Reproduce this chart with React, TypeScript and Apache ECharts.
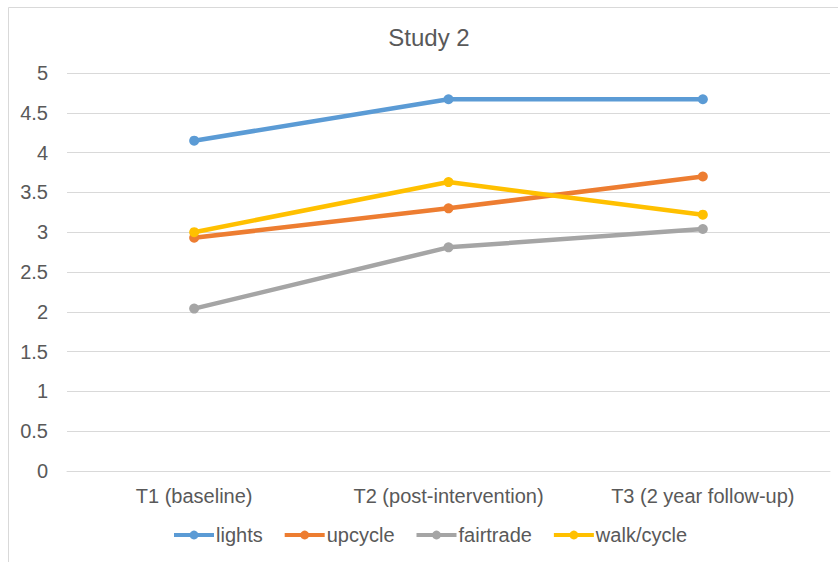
import React, { useEffect, useRef } from "react";
import * as echarts from "echarts";

const categories = ["T1 (baseline)", "T2 (post-intervention)", "T3 (2 year follow-up)"];
const seriesNames = ["lights", "upcycle", "fairtrade", "walk/cycle"];
const lights = [4.15, 4.67, 4.67];
const upcycle = [2.93, 3.3, 3.7];
const fairtrade = [2.04, 2.81, 3.04];
const walkCycle = [3.0, 3.63, 3.22];
const colors = ["#5B9BD5", "#ED7D31", "#A5A5A5", "#FFC000"];

export default function App() {
  const ref = useRef<HTMLDivElement>(null);
  useEffect(() => {
    if (!ref.current) return;
    const chart = echarts.init(ref.current, null, { renderer: "svg" });
    const values = [lights, upcycle, fairtrade, walkCycle];
    const font = "'Liberation Sans', Arial, sans-serif";
    chart.setOption({
      animation: false,
      textStyle: { fontFamily: font },
      title: {
        text: "Study 2",
        left: 429,
        top: 25,
        padding: 0,
        textAlign: "center",
        textStyle: { fontSize: 24, fontWeight: "normal", color: "#595959", fontFamily: font },
      },
      graphic: [
        {
          type: "rect",
          shape: { x: 8.5, y: 7.5, width: 900, height: 900 },
          style: { fill: "none", stroke: "#d9d9d9", lineWidth: 1 },
          silent: true,
        },
      ],
      legend: {
        data: seriesNames,
        top: 525,
        left: 172,
        padding: 0,
        itemWidth: 40,
        itemHeight: 11,
        itemGap: 20,
        lineStyle: { width: 4 },
        textStyle: { fontSize: 20, color: "#595959", fontFamily: font, padding: [0, 0, 0, -3] },
      },
      grid: { left: 67, right: 8, top: 73, bottom: 91 },
      xAxis: {
        type: "category",
        data: categories,
        boundaryGap: true,
        axisLine: { lineStyle: { color: "#d9d9d9", width: 1 } },
        axisTick: { show: false },
        axisLabel: { fontSize: 20, color: "#595959", margin: 15, fontFamily: font },
      },
      yAxis: {
        type: "value",
        min: 0,
        max: 5,
        interval: 0.5,
        axisLine: { show: false },
        axisTick: { show: false },
        splitLine: { lineStyle: { color: "#d9d9d9", width: 1 } },
        axisLabel: { fontSize: 20, color: "#595959", margin: 19, fontFamily: font },
      },
      series: seriesNames.map((name, i) => ({
        name,
        type: "line",
        data: values[i],
        symbol: "circle",
        symbolSize: 10,
        lineStyle: { width: 4.5, color: colors[i] },
        itemStyle: { color: colors[i] },
      })),
    });
    return () => chart.dispose();
  }, []);
  return (
    <div
      ref={ref}
      style={{ position: "fixed", left: 0, top: 0, width: 838, height: 562, background: "#fff" }}
    />
  );
}
